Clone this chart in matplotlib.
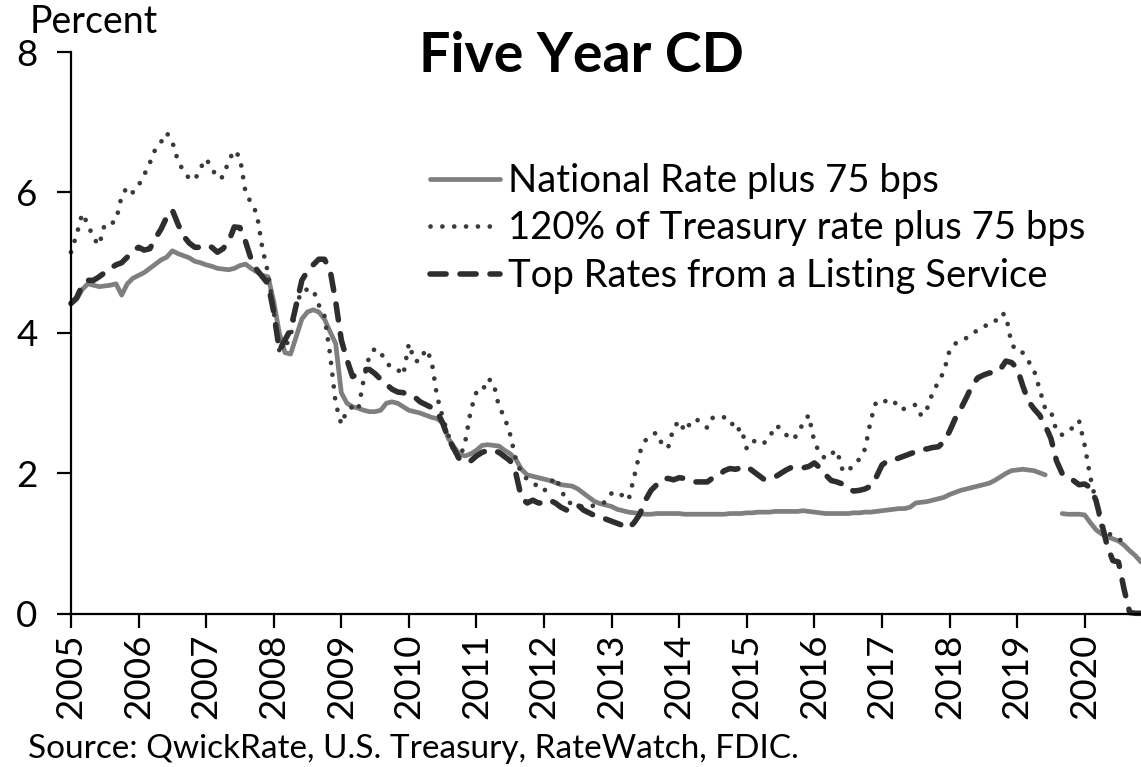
import numpy as np
import matplotlib
matplotlib.use('Agg')
import matplotlib.pyplot as plt

plt.rcParams['font.family'] = ['Lato', 'DejaVu Sans']

# monthly values, Jan 2005 onwards (percent)
national = [4.42, 4.48, 4.62, 4.7, 4.68, 4.66, 4.67, 4.68, 4.7, 4.54, 4.7, 4.78,
            4.82, 4.86, 4.92, 4.98, 5.04, 5.08, 5.17, 5.13, 5.1, 5.07, 5.02, 5.0,
            4.97, 4.95, 4.92, 4.91, 4.9, 4.92, 4.96, 4.98, 4.92, 4.87, 4.82, 4.8,
            4.45, 4.0, 3.72, 3.7, 3.95, 4.2, 4.3, 4.33, 4.3, 4.2, 4.02, 3.85,
            3.15, 3.0, 2.95, 2.93, 2.9, 2.88, 2.88, 2.9, 3.0, 3.02, 3.0, 2.95,
            2.9, 2.88, 2.86, 2.83, 2.8, 2.78, 2.72, 2.5, 2.38, 2.27, 2.25, 2.28,
            2.33, 2.4, 2.41, 2.4, 2.39, 2.33, 2.28, 2.2, 2.06, 1.98, 1.96, 1.94,
            1.92, 1.9, 1.87, 1.84, 1.83, 1.82, 1.78, 1.72, 1.66, 1.6, 1.57, 1.55,
            1.53, 1.49, 1.47, 1.45, 1.44, 1.43, 1.42, 1.42, 1.43, 1.43, 1.43, 1.43,
            1.43, 1.42, 1.42, 1.42, 1.42, 1.42, 1.42, 1.42, 1.42, 1.43, 1.43, 1.43,
            1.44, 1.44, 1.45, 1.45, 1.45, 1.46, 1.46, 1.46, 1.46, 1.46, 1.47, 1.46,
            1.45, 1.44, 1.43, 1.43, 1.43, 1.43, 1.43, 1.44, 1.44, 1.45, 1.45, 1.46,
            1.47, 1.48, 1.49, 1.5, 1.5, 1.52, 1.58, 1.59, 1.6, 1.62, 1.64, 1.66,
            1.7, 1.73, 1.76, 1.78, 1.8, 1.82, 1.84, 1.86, 1.9, 1.95, 2.0, 2.04,
            2.05, 2.06, 2.05, 2.04, 2.01, 1.98, np.nan, np.nan, 1.43, 1.42, 1.42, 1.42,
            1.41, 1.3, 1.2, 1.14, 1.1, 1.07, 1.04, 0.98, 0.9, 0.83, 0.74]

treasury = [5.15, 5.4, 5.7, 5.55, 5.35, 5.25, 5.55, 5.55, 5.6, 5.95, 6.08, 6.0,
            6.1, 6.25, 6.42, 6.62, 6.72, 6.85, 6.72, 6.45, 6.3, 6.2, 6.18, 6.35,
            6.48, 6.35, 6.2, 6.22, 6.45, 6.6, 6.5, 6.0, 5.85, 5.7, 5.2, 4.85,
            4.3, 3.75, 3.8, 3.95, 4.4, 4.6, 4.62, 4.62, 4.4, 4.25, 3.7, 3.0,
            2.7, 2.9, 2.95, 2.9, 3.35, 3.68, 3.78, 3.72, 3.58, 3.5, 3.48, 3.4,
            3.85, 3.6, 3.6, 3.77, 3.62, 3.1, 2.8, 2.55, 2.3, 2.2, 2.45, 2.9,
            3.16, 3.16, 3.35, 3.3, 2.95, 2.8, 2.55, 2.2, 2.0, 1.92, 1.88, 1.8,
            1.75, 1.85, 1.95, 1.78, 1.6, 1.57, 1.55, 1.52, 1.52, 1.55, 1.56, 1.6,
            1.72, 1.74, 1.68, 1.62, 1.95, 2.3, 2.47, 2.55, 2.58, 2.41, 2.36, 2.65,
            2.75, 2.6, 2.72, 2.78, 2.7, 2.65, 2.8, 2.79, 2.8, 2.78, 2.6, 2.65,
            2.35, 2.45, 2.48, 2.43, 2.5, 2.68, 2.65, 2.55, 2.48, 2.55, 2.72, 2.83,
            2.45, 2.28, 2.21, 2.28, 2.33, 2.05, 2.02, 2.15, 2.2, 2.35, 2.75, 3.03,
            3.03, 3.03, 3.05, 2.92, 2.92, 2.95, 2.98, 2.82, 2.92, 3.15, 3.3, 3.45,
            3.75, 3.85, 3.87, 3.93, 3.97, 4.05, 4.1, 4.11, 4.15, 4.28, 4.26, 3.85,
            3.73, 3.72, 3.6, 3.47, 3.2, 2.92, 2.89, 2.6, 2.55, 2.62, 2.65, 2.75,
            2.4, 1.95, 1.6, 1.25, 1.17, 1.1, 1.06, 1.04, 1.1]

top_rates = [4.42, 4.5, 4.68, 4.75, 4.75, 4.8, 4.86, 4.92, 4.97, 5.0, 5.08, 5.17,
             5.22, 5.18, 5.2, 5.35, 5.48, 5.65, 5.75, 5.55, 5.38, 5.28, 5.22, 5.22,
             5.25, 5.22, 5.15, 5.2, 5.3, 5.51, 5.5, 5.3, 5.05, 4.9, 4.8, 4.7,
             4.3, 3.75, 3.9, 4.05, 4.4, 4.75, 4.88, 4.97, 5.05, 5.05, 4.9, 4.45,
             3.9, 3.62, 3.38, 3.42, 3.48, 3.48, 3.42, 3.34, 3.27, 3.2, 3.16, 3.15,
             3.12, 3.09, 3.02, 2.98, 2.94, 2.88, 2.72, 2.5, 2.35, 2.2, 2.16, 2.18,
             2.25, 2.3, 2.33, 2.33, 2.3, 2.24, 2.18, 2.0, 1.65, 1.58, 1.62, 1.58,
             1.58, 1.62, 1.58, 1.52, 1.48, 1.52, 1.55, 1.48, 1.44, 1.4, 1.38, 1.35,
             1.32, 1.29, 1.26, 1.22, 1.3, 1.42, 1.62, 1.76, 1.84, 1.92, 1.93, 1.91,
             1.94, 1.93, 1.9, 1.88, 1.88, 1.88, 1.94, 1.97, 2.04, 2.07, 2.06, 2.08,
             2.1, 2.04, 1.98, 1.92, 1.92, 1.95, 2.0, 2.05, 2.09, 2.09, 2.08, 2.1,
             2.15, 2.08, 1.98, 1.9, 1.88, 1.85, 1.78, 1.75, 1.76, 1.78, 1.82, 1.95,
             2.12, 2.18, 2.19, 2.22, 2.25, 2.28, 2.31, 2.34, 2.35, 2.37, 2.38, 2.45,
             2.6, 2.78, 2.92, 3.08, 3.25, 3.36, 3.4, 3.43, 3.44, 3.48, 3.6, 3.58,
             3.5, 3.25, 3.03, 2.92, 2.83, 2.68, 2.5, 2.18, 2.0, 1.96, 1.9, 1.84,
             1.85, 1.8, 1.62, 1.3, 0.97, 0.76, 0.74, 0.35, 0.02, 0.01, 0.01]

years = list(range(2005, 2021))
labels = ["National Rate plus 75 bps",
          "120% of Treasury rate plus 75 bps",
          "Top Rates from a Listing Service"]


def month_axis(series):
    return 2005 + np.arange(len(series)) / 12.0


fig = plt.figure(figsize=(11.41, 7.67), dpi=100)
ax = fig.add_axes([0.0622, 0.1995, 0.9378, 0.7327])

ax.plot(month_axis(national), national, color='#7f7f7f', lw=3.4,
        solid_capstyle='round', label=labels[0], clip_on=False)
ax.plot(month_axis(treasury), treasury, color='#3a3a3a', lw=3.4,
        linestyle=(0, (0.01, 2.5)), dash_capstyle='round',
        label=labels[1], clip_on=False)
ax.plot(month_axis(top_rates), top_rates, color='#2e2e2e', lw=4.0,
        linestyle=(0, (2.9, 2.5)), dash_capstyle='round',
        label=labels[2], clip_on=False)

ax.set_xlim(2005, 2005 + 190 / 12.0)
ax.set_ylim(0, 8)
ax.set_yticks([0, 2, 4, 6, 8])
ax.set_xticks(years)
ax.set_xticklabels([str(y) for y in years], rotation=90)

for side in ['top', 'right']:
    ax.spines[side].set_visible(False)
for side in ['left', 'bottom']:
    ax.spines[side].set_linewidth(1.6)
ax.tick_params(axis='both', direction='out', width=1.6, length=10,
               labelsize=26.5, color='black')
ax.tick_params(axis='y', pad=14)
ax.tick_params(axis='x', pad=4)

leg = ax.legend(loc='upper left', bbox_to_anchor=(430 / 1141, 1 - 163 / 767),
                bbox_transform=fig.transFigure, frameon=False, fontsize=27.5,
                handlelength=1.84, handletextpad=0.21, labelspacing=0.3,
                borderpad=0, borderaxespad=0)

fig.text(581 / 1141, 1 - 72 / 767, "Five Year CD", ha='center',
         va='baseline', fontsize=40, fontweight='bold')
fig.text(30 / 1141, 1 - 33 / 767, "Percent", ha='left', va='baseline',
         fontsize=27)
fig.text(28 / 1141, 1 - 758 / 767,
         "Source: QwickRate, U.S. Treasury, RateWatch, FDIC.",
         ha='left', va='baseline', fontsize=24)

fig.savefig('out.png', dpi=100)
